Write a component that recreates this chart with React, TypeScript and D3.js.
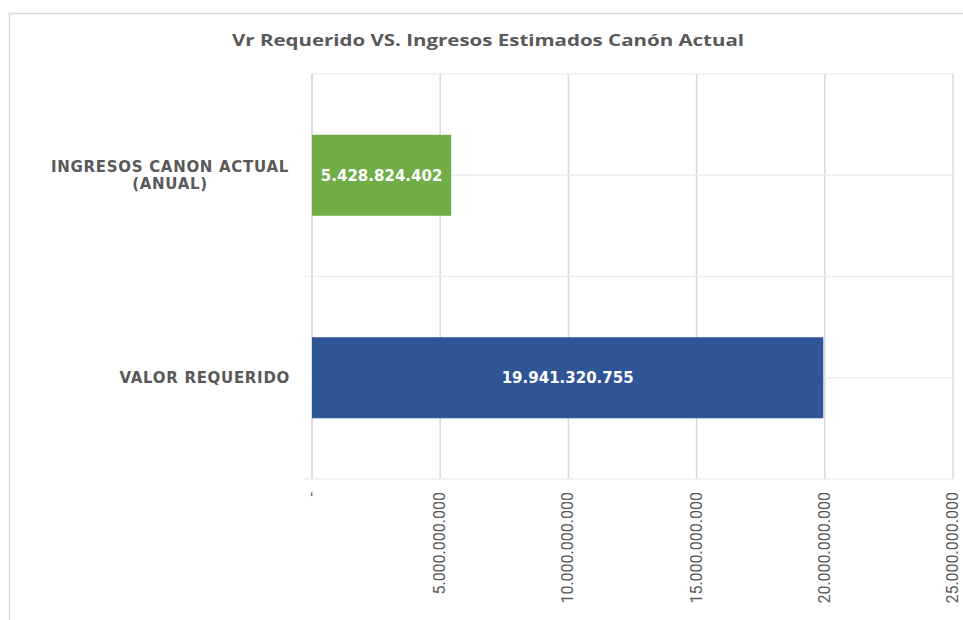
import React, { useRef, useEffect } from 'react';
import * as d3 from 'd3';

const categories = ['INGRESOS CANON ACTUAL (ANUAL)', 'VALOR REQUERIDO'];
const categoryLines = [['INGRESOS CANON ACTUAL', '(ANUAL)'], ['VALOR REQUERIDO']];
const values = [5428824402, 19941320755];
const barLabels = ['5.428.824.402', '19.941.320.755'];
const barColors = ['#70AD47', '#2F5597'];
const tickValues = [0, 5e9, 10e9, 15e9, 20e9, 25e9];
const tickLabels = ['-', '5.000.000.000', '10.000.000.000', '15.000.000.000', '20.000.000.000', '25.000.000.000'];
const title = 'Vr Requerido VS. Ingresos Estimados Canón Actual';

const W = 963;
const H = 620;
const FONT = "'Open Sans', 'Liberation Sans', sans-serif";
const WIDE = "'DejaVu Sans', 'Open Sans', sans-serif";
const GRAY = '#595959';
const GRID = '#d9d9d9';

export default function App() {
  const svgRef = useRef<SVGSVGElement>(null);

  useEffect(() => {
    const svg = d3.select(svgRef.current);
    svg.selectAll('*').remove();

    const left = 312;
    const right = 953;
    const top = 74;
    const bottom = 479;

    // marco del gráfico
    svg
      .append('rect')
      .attr('x', 9.5)
      .attr('y', 13.5)
      .attr('width', W + 20)
      .attr('height', H + 20)
      .attr('fill', '#fff')
      .attr('stroke', GRID)
      .attr('stroke-width', 1.5);

    svg
      .append('text')
      .attr('x', 488)
      .attr('y', 46)
      .attr('text-anchor', 'middle')
      .attr('fill', GRAY)
      .attr('font-family', FONT)
      .attr('font-weight', 'bold')
      .attr('font-size', '16px')
      .attr('textLength', 512)
      .attr('lengthAdjust', 'spacingAndGlyphs')
      .text(title);

    const x = d3.scaleLinear().domain([0, 25e9]).range([left, right]);
    const y = d3
      .scaleBand<string>()
      .domain(categories)
      .range([top, bottom])
      .paddingInner(0.6)
      .paddingOuter(0.3);

    const g = svg.append('g');

    // líneas verticales de la cuadrícula
    g.selectAll('line.vgrid')
      .data(tickValues)
      .enter()
      .append('line')
      .attr('x1', (d) => x(d))
      .attr('x2', (d) => x(d))
      .attr('y1', top)
      .attr('y2', bottom)
      .attr('stroke', GRID)
      .attr('stroke-width', 1.5);

    // límites de categorías
    const bounds = [top, top + (bottom - top) / 2, bottom];
    g.selectAll('line.hgrid')
      .data(bounds)
      .enter()
      .append('line')
      .attr('x1', (d, i) => (i === 0 ? left : left - 8))
      .attr('x2', right)
      .attr('y1', (d) => d)
      .attr('y2', (d) => d)
      .attr('stroke', '#eeeeee')
      .attr('stroke-width', 1.5);

    // líneas en el centro de cada categoría
    g.selectAll('line.cgrid')
      .data(categories)
      .enter()
      .append('line')
      .attr('x1', left)
      .attr('x2', right)
      .attr('y1', (d) => y(d)! + y.bandwidth() / 2)
      .attr('y2', (d) => y(d)! + y.bandwidth() / 2)
      .attr('stroke', '#eeeeee')
      .attr('stroke-width', 1.5);

    g.append('line')
      .attr('x1', left)
      .attr('x2', left)
      .attr('y1', top)
      .attr('y2', bottom)
      .attr('stroke', GRID)
      .attr('stroke-width', 1.5);

    g.selectAll('rect.bar')
      .data(values)
      .enter()
      .append('rect')
      .attr('x', x(0))
      .attr('y', (d, i) => y(categories[i])!)
      .attr('width', (d) => x(d) - x(0))
      .attr('height', y.bandwidth())
      .attr('fill', (d, i) => barColors[i]);

    g.selectAll('text.barlabel')
      .data(values)
      .enter()
      .append('text')
      .attr('x', (d) => (x(0) + x(d)) / 2)
      .attr('y', (d, i) => y(categories[i])! + y.bandwidth() / 2)
      .attr('dy', '0.35em')
      .attr('text-anchor', 'middle')
      .attr('fill', '#fff')
      .attr('font-family', WIDE)
      .attr('font-weight', 'bold')
      .attr('font-size', '15px')
      .text((d, i) => barLabels[i]);

    // etiquetas de categoría
    categoryLines.forEach((lines, i) => {
      const cy = y(categories[i])! + y.bandwidth() / 2;
      const multi = lines.length > 1;
      lines.forEach((line, j) => {
        g.append('text')
          .attr('x', multi ? 170 : 290)
          .attr('y', cy + (j - (lines.length - 1) / 2) * 17)
          .attr('dy', '0.35em')
          .attr('text-anchor', multi ? 'middle' : 'end')
          .attr('fill', GRAY)
          .attr('font-family', WIDE)
          .attr('font-weight', 'bold')
          .attr('font-size', '15px')
          .attr('letter-spacing', '0.7px')
          .text(line);
      });
    });

    // etiquetas del eje x (rotadas)
    g.selectAll('text.tick')
      .data(tickValues)
      .enter()
      .append('text')
      .attr('transform', (d) => `translate(${x(d) + 5},${492}) rotate(-90)`)
      .attr('text-anchor', 'end')
      .attr('fill', GRAY)
      .attr('font-family', "'Liberation Sans Narrow', 'Roboto', sans-serif")
      .attr('font-size', '16px')
      .text((d, i) => tickLabels[i]);
  }, []);

  return (
    <svg
      ref={svgRef}
      width={W}
      height={H}
      style={{ position: 'absolute', left: 0, top: 0, background: '#fff' }}
      xmlns="http://www.w3.org/2000/svg"
    />
  );
}
